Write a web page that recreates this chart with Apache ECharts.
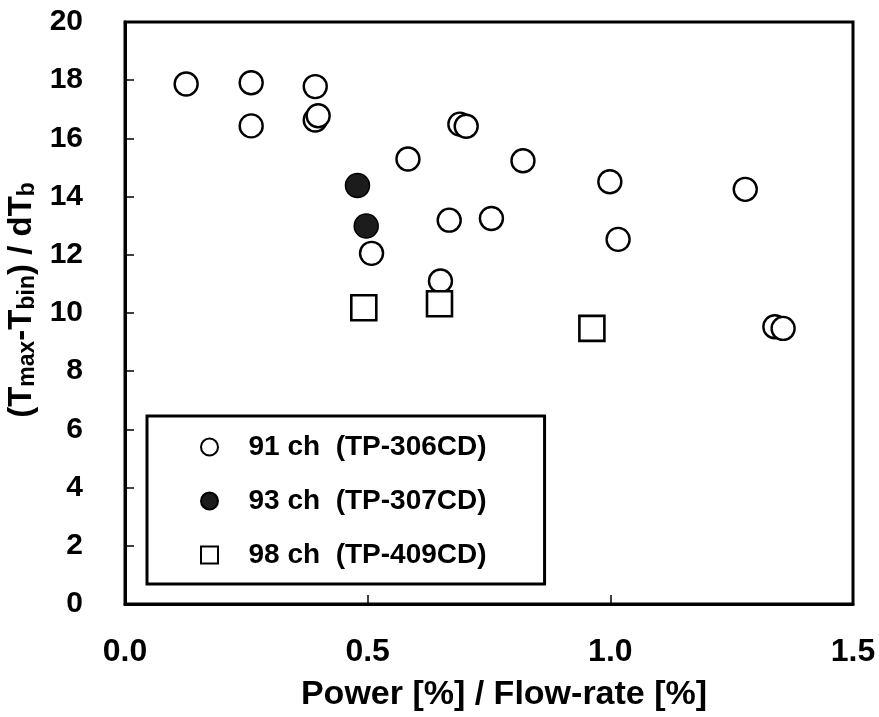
<!DOCTYPE html>
<html>
<head>
<meta charset="utf-8">
<script src="https://cdn.jsdelivr.net/npm/echarts@6/dist/echarts.min.js"></script>
<style>
  html, body { margin: 0; padding: 0; background: #fff; }
  #chart { width: 879px; height: 717px; }
</style>
</head>
<body>
<div id="chart"></div>
<script>
// Measured points: [power/flow-rate ratio, (Tmax - Tbin) / dTb]
const ch91 = [
  [0.126, 17.87], [0.260, 17.91], [0.392, 17.78],
  [0.260, 16.43], [0.392, 16.63], [0.398, 16.78],
  [0.690, 16.49], [0.703, 16.42],
  [0.583, 15.29], [0.820, 15.23],
  [0.668, 13.19], [0.755, 13.25],
  [0.508, 12.05], [0.650, 11.10],
  [0.999, 14.51], [1.278, 14.25], [1.016, 12.53],
  [1.339, 9.53], [1.356, 9.47]
];
const ch93 = [[0.479, 14.38], [0.497, 12.99]];
const ch98 = [[0.492, 10.18], [0.648, 10.32], [0.962, 9.47]];

const seriesNames = ['91 ch  (TP-306CD)', '93 ch  (TP-307CD)', '98 ch  (TP-409CD)'];

const FONT = '"Liberation Sans", Arial, Helvetica, sans-serif';
// square outline symbol that keeps its aspect in the legend
const SQUARE = 'path://M0,0L10,0L10,10L0,10Z';

const chart = echarts.init(document.getElementById('chart'));
chart.setOption({
  backgroundColor: '#fff',
  animation: false,
  grid: {
    left: 125, right: 26, top: 22, bottom: 113,
    containLabel: false, outerBoundsMode: 'none',
    show: true, borderColor: '#000', borderWidth: 3, backgroundColor: 'transparent'
  },
  legend: {
    orient: 'vertical',
    left: 147, top: 416,
    padding: [17, 58, 15, 53],
    itemGap: 26,
    itemWidth: 68, itemHeight: 17,
    symbolKeepAspect: true,
    borderColor: '#000', borderWidth: 3,
    backgroundColor: '#fff',
    textStyle: { fontFamily: FONT, fontWeight: 'bold', fontSize: 28, color: '#000' },
    data: [
      { name: seriesNames[0], icon: 'circle' },
      { name: seriesNames[1], icon: 'circle' },
      { name: seriesNames[2], icon: SQUARE }
    ]
  },
  xAxis: {
    type: 'value', min: 0, max: 1.5, interval: 0.5,
    name: 'Power [%] / Flow-rate [%]',
    nameLocation: 'middle', nameGap: 74,
    nameTextStyle: { fontFamily: FONT, fontWeight: 'bold', fontSize: 34, color: '#000', padding: [0, 0, 0, 30] },
    axisLine: { show: true, lineStyle: { color: '#000', width: 3 } },
    axisTick: { show: true, inside: true, length: 9, lineStyle: { color: '#000', width: 1.5 } },
    axisLabel: {
      margin: 32, fontFamily: FONT, fontWeight: 'bold', fontSize: 32, color: '#000',
      formatter: v => v.toFixed(1)
    },
    splitLine: { show: false }
  },
  yAxis: {
    type: 'value', min: 0, max: 20, interval: 2,
    name: '{m|(T}{s|max}{m|-T}{s|bin}{m|) / dT}{s|b}',
    nameLocation: 'middle', nameGap: 83, nameRotate: 90,
    nameTextStyle: {
      color: '#000',
      padding: [0, 0, 0, 26],
      rich: {
        m: { fontFamily: FONT, fontWeight: 'bold', fontSize: 33, color: '#000', lineHeight: 34, verticalAlign: 'bottom' },
        s: { fontFamily: FONT, fontWeight: 'bold', fontSize: 23, color: '#000', lineHeight: 28, verticalAlign: 'bottom' }
      }
    },
    axisLine: { show: true, lineStyle: { color: '#000', width: 3 } },
    axisTick: { show: true, inside: true, length: 9, lineStyle: { color: '#000', width: 1.5 } },
    axisLabel: { margin: 42, fontFamily: FONT, fontWeight: 'bold', fontSize: 30, color: '#000' },
    splitLine: { show: false }
  },
  series: [
    {
      name: seriesNames[0], type: 'scatter', data: ch91,
      symbol: 'circle', symbolSize: 23,
      itemStyle: { color: '#fff', borderColor: '#000', borderWidth: 2.4, opacity: 1 },
      z: 2
    },
    {
      name: seriesNames[1], type: 'scatter', data: ch93,
      symbol: 'circle', symbolSize: 24,
      itemStyle: { color: '#1c1c1c', borderColor: '#000', borderWidth: 1.5, opacity: 1 },
      z: 3
    },
    {
      name: seriesNames[2], type: 'scatter', data: ch98,
      symbol: SQUARE, symbolSize: 25, symbolKeepAspect: true,
      itemStyle: { color: '#fff', borderColor: '#000', borderWidth: 2.6, opacity: 1 },
      z: 2
    }
  ]
});
</script>
</body>
</html>
